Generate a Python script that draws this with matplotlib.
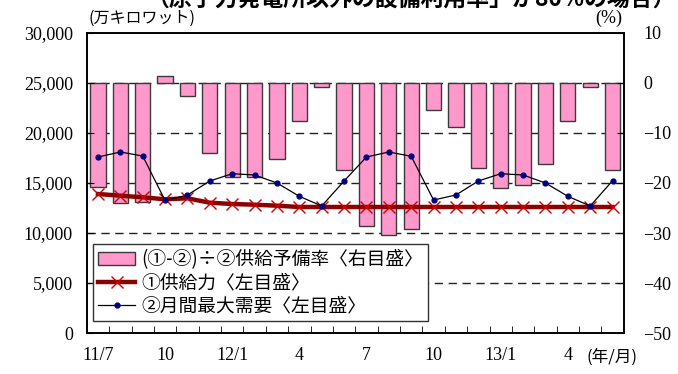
import numpy as np
import matplotlib.pyplot as plt
from matplotlib.patches import Patch
from matplotlib.lines import Line2D

# 2011/7 - 2013/6 の月別データ
months = np.arange(24)
month_labels = ['11/7', '10', '12/1', '4', '7', '10', '13/1', '4']
label_pos = [0, 3, 6, 9, 12, 15, 18, 21]

# 供給予備率 (%)
reserve = [-20.8, -24.1, -23.9, 1.3, -2.7, -14.0, -18.9, -18.9, -15.3, -7.7, -0.8, -17.5,
           -28.5, -30.4, -29.1, -5.5, -8.8, -17.1, -21.0, -20.5, -16.2, -7.7, -0.8, -17.5]
# ①供給力 (万kW)
supply = [13900, 13730, 13570, 13370, 13470, 13030, 12900, 12830, 12730, 12600, 12600, 12600,
          12600, 12600, 12600, 12600, 12600, 12600, 12600, 12600, 12600, 12600, 12600, 12600]
# ②月間最大需要 (万kW)
demand = [17600, 18100, 17700, 13250, 13800, 15200, 15930, 15800, 15000, 13670, 12700, 15200,
          17600, 18100, 17670, 13300, 13800, 15200, 15930, 15800, 15000, 13670, 12700, 15230]

serif = ['Liberation Serif', 'Noto Sans CJK JP']
jp = ['Noto Sans CJK JP', 'DejaVu Sans']
plt.rcParams['font.family'] = serif

fig = plt.figure(figsize=(6.78, 3.74), dpi=100)
ax = fig.add_axes([0.128, 0.1096, 0.792, 0.8022])
ax2 = ax.twinx()

# 棒グラフ(右目盛)は背面に
ax2.set_zorder(0)
ax.set_zorder(1)
ax.patch.set_visible(False)

ax2.bar(months, reserve, width=0.68, color='#ff99cc', edgecolor='#3a3a3a', linewidth=1.0)
ax2.set_ylim(-50, 10)
ax2.set_yticks(range(-50, 11, 10))
ax2.tick_params(axis='y', direction='in', length=5, labelsize=13, pad=14)

for v in range(-40, 1, 10):
    ax2.axhline(v, color='#222222', linestyle=(0, (6, 4)), linewidth=1.0, zorder=0)

ax.plot(months, supply, color='#8b0000', linewidth=3.2, marker='x', markersize=9,
        markeredgecolor='#cc0000', markeredgewidth=1.0)
ax.plot(months, demand, color='black', linewidth=0.9, marker='o', markersize=3.5,
        markerfacecolor='#000080', markeredgecolor='#000080')

ax.set_ylim(0, 30000)
ax.set_yticks(range(0, 30001, 5000))
ax.set_yticklabels([f'{v:,}' for v in range(0, 30001, 5000)])
ax.tick_params(axis='y', direction='in', length=5, labelsize=13, pad=10)
ax.set_xlim(-0.5, 23.5)
ax.set_xticks(label_pos)
ax.set_xticklabels(month_labels)
ax.tick_params(axis='x', length=0, labelsize=13, pad=10)
ax.set_xticks(np.arange(0.5, 23, 1), minor=True)
ax.tick_params(axis='x', which='minor', direction='in', length=5)

for a in (ax, ax2):
    for s in a.spines.values():
        s.set_linewidth(1.2)

handles = [Patch(facecolor='#ff99cc', edgecolor='#3a3a3a'),
           Line2D([], [], color='#8b0000', linewidth=3.2, marker='x', markersize=9,
                  markeredgecolor='#cc0000'),
           Line2D([], [], color='black', linewidth=0.9, marker='o', markersize=3.5,
                  markerfacecolor='#000080', markeredgecolor='#000080')]
labels = ['(①-②)÷②供給予備率〈右目盛〉', '①供給力〈左目盛〉', '②月間最大需要〈左目盛〉']
leg = ax.legend(handles, labels, loc='lower left', bbox_to_anchor=(0.012, 0.04),
                prop={'family': jp, 'size': 13.5}, frameon=True, fancybox=False,
                edgecolor='#333333', framealpha=1, borderpad=0.25, labelspacing=0.12,
                handlelength=2.0, handletextpad=0.3, borderaxespad=0)
leg.get_frame().set_linewidth(1.0)

fig.text(0.13, 0.952, '(万キロワット)', family=jp, fontsize=11.5, ha='left', va='center')
fig.text(0.918, 0.952, '(%)', family=serif, fontsize=13, ha='right', va='center')
fig.text(0.94, 0.046, '(年/月)', family=jp, fontsize=12, ha='right', va='center')
fig.text(0.607, 1.0, '（原子力発電所以外の設備利用率」が80%の場合）', family=jp,
         fontsize=16.5, fontweight='bold', ha='center', va='center')

fig.savefig('out.png', dpi=100)
